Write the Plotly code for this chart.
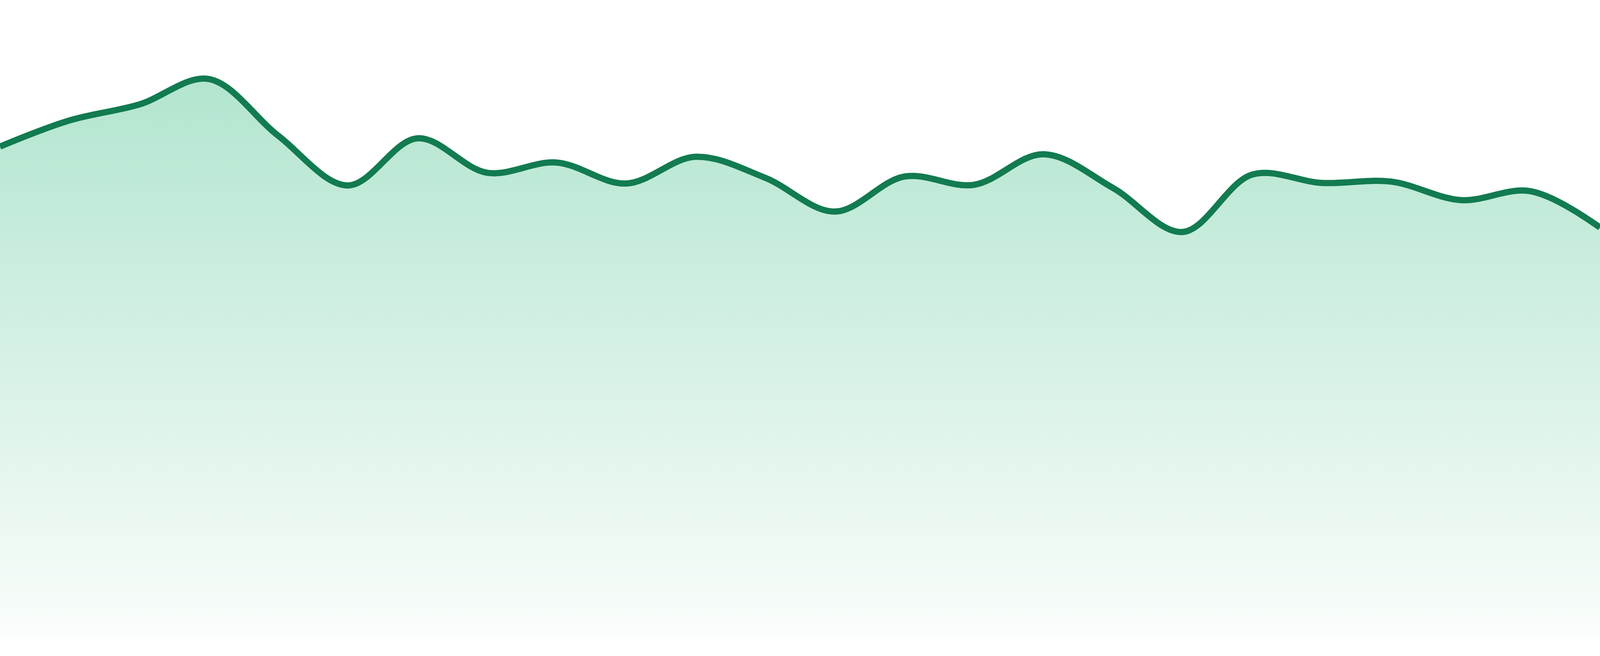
import plotly.graph_objects as go

# sparkline values, one per step
steps = list(range(24))
values = [77.0, 81.1, 83.6, 87.6, 78.7, 70.9, 78.3, 72.9,
          74.5, 71.2, 75.4, 72.1, 66.8, 72.3, 71.0, 75.8,
          70.5, 63.6, 72.6, 71.3, 71.5, 68.6, 70.0, 64.3]

LINE_COLOR = "#127b50"
FILL_TOP = "#b2e5cf"
FILL_BOTTOM = "#fafdfb"

fig = go.Figure()
fig.add_trace(go.Scatter(
    x=steps,
    y=values,
    mode="lines",
    line=dict(color=LINE_COLOR, width=16, shape="spline", smoothing=1),
    fill="tozeroy",
    fillgradient=dict(
        type="vertical",
        colorscale=[[0, FILL_BOTTOM], [1, FILL_TOP]],
        start=0,
        stop=max(values),
    ),
    hoverinfo="skip",
))

fig.update_layout(
    autosize=True,
    margin=dict(l=0, r=0, t=0, b=0),
    plot_bgcolor="white",
    paper_bgcolor="white",
    showlegend=False,
    xaxis=dict(visible=False, range=[0, len(steps) - 1], fixedrange=True),
    yaxis=dict(visible=False, range=[-2.94, 100], fixedrange=True),
)

# fill the whole window, no body margin
fig.write_html(
    "out.html",
    config={"displayModeBar": False, "responsive": True},
    default_width="100vw",
    default_height="100vh",
    post_script=(
        "document.body.style.margin='0';"
        "document.body.style.overflow='hidden';"
        "Plotly.Plots.resize(document.getElementById('{plot_id}'));"
    ),
)
